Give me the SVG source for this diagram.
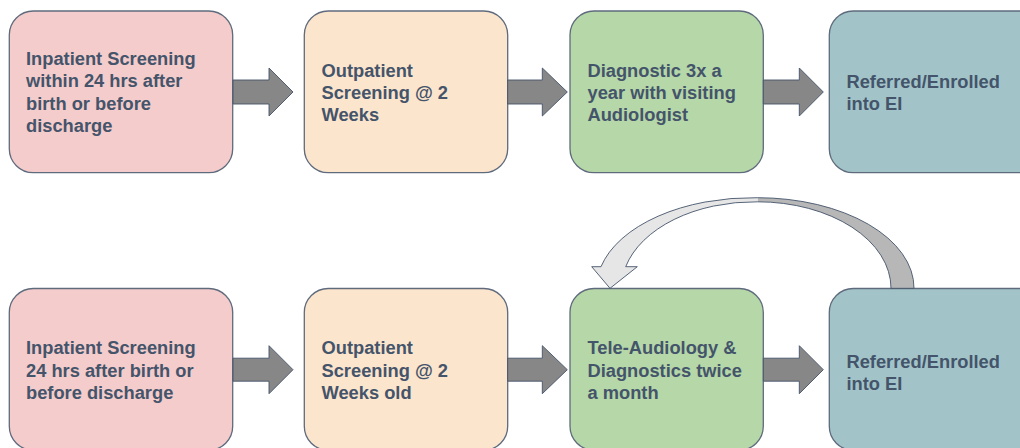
<svg xmlns="http://www.w3.org/2000/svg" width="1020" height="448" viewBox="0 0 1020 448">
<style>
.box{stroke:#5f6b7d;stroke-width:1.3}
.pink{fill:#f4cccc}.peach{fill:#fce5cd}.green{fill:#b6d7a8}.teal{fill:#a2c4c9}
.lbl{font-family:"Liberation Sans",Arial,sans-serif;font-weight:bold;font-size:18.3px;fill:#44546a}
.arr{fill:#878787;stroke:#44546a;stroke-width:0.9;stroke-linejoin:miter}
.cback{fill:#b7b7b7;stroke:none}
.cfront{fill:#e7e6e6;stroke:none}
.cline{fill:none;stroke:#44546a;stroke-width:0.9}
</style>
<rect width="1020" height="448" fill="#ffffff"/>
<g id="top1"><rect class="box pink" x="9.3" y="11" width="223.4" height="161.7" rx="24"/>
<text class="lbl"><tspan x="26" y="65">Inpatient Screening</tspan><tspan x="26" y="87.3">within 24 hrs after</tspan><tspan x="26" y="109.6">birth or before</tspan><tspan x="26" y="131.9">discharge</tspan></text></g>
<g id="top2"><rect class="box peach" x="304.3" y="11" width="203.4" height="161.7" rx="24"/>
<text class="lbl"><tspan x="321.5" y="76.5">Outpatient</tspan><tspan x="321.5" y="98.8">Screening @ 2</tspan><tspan x="321.5" y="121.1">Weeks</tspan></text></g>
<g id="top3"><rect class="box green" x="570" y="11" width="193.3" height="161.7" rx="24"/>
<text class="lbl"><tspan x="587.5" y="76.5">Diagnostic 3x a</tspan><tspan x="587.5" y="98.8">year with visiting</tspan><tspan x="587.5" y="121.1">Audiologist</tspan></text></g>
<g id="top4"><rect class="box teal" x="829.3" y="11" width="224" height="161.7" rx="24"/>
<text class="lbl"><tspan x="846.5" y="87.7">Referred/Enrolled</tspan><tspan x="846.5" y="110">into EI</tspan></text></g>
<g id="bot1"><rect class="box pink" x="9.3" y="288.5" width="223.4" height="161.7" rx="24"/>
<text class="lbl"><tspan x="26" y="354">Inpatient Screening</tspan><tspan x="26" y="376.5">24 hrs after birth or</tspan><tspan x="26" y="398.8">before discharge</tspan></text></g>
<g id="bot2"><rect class="box peach" x="304.3" y="288.5" width="203.4" height="161.7" rx="24"/>
<text class="lbl"><tspan x="321.5" y="354">Outpatient</tspan><tspan x="321.5" y="376.5">Screening @ 2</tspan><tspan x="321.5" y="398.8">Weeks old</tspan></text></g>
<g id="bot3"><rect class="box green" x="570" y="288.5" width="193.3" height="161.7" rx="24"/>
<text class="lbl"><tspan x="587.5" y="354">Tele-Audiology &amp;</tspan><tspan x="587.5" y="376.5">Diagnostics twice</tspan><tspan x="587.5" y="398.8">a month</tspan></text></g>
<g id="bot4"><rect class="box teal" x="829.3" y="288.5" width="224" height="161.7" rx="24"/>
<text class="lbl"><tspan x="846.5" y="367.5">Referred/Enrolled</tspan><tspan x="846.5" y="389.8">into EI</tspan></text></g>
<g id="connectors">
<path class="arr" d="M233,80 H269 V68 L293,92 L269,116 V104 H233 Z"/>
<path class="arr" d="M507.7,80 H542.3 V68 L567.3,92 L542.3,116 V104 H507.7 Z"/>
<path class="arr" d="M763.3,80 H799.3 V68 L823.3,92 L799.3,116 V104 H763.3 Z"/>
<path class="arr" d="M233,358.2 H269 V345.7 L293,369.7 L269,393.7 V381.2 H233 Z"/>
<path class="arr" d="M507.7,358.2 H542.3 V345.7 L567.3,369.7 L542.3,393.7 V381.2 H507.7 Z"/>
<path class="arr" d="M763.3,358.2 H799.3 V345.7 L823.3,369.7 L799.3,393.7 V381.2 H763.3 Z"/>
<path class="cback" d="M757.5,197.7 A156.5 90.3 0 0 1 914,288.3 L891,288.3 A133.5 86.5 0 0 0 757.5,201.8 Z"/>
<path class="cfront" d="M601,266.7 A156.5 90.3 0 0 1 757.5,197.7 L757.5,201.8 A133.5 86.5 0 0 0 625.7,266.7 L637.3,266.7 L610,288.3 L591.7,266.7 Z"/>
<path class="cline" d="M757.5,197.7 A156.5 90.3 0 0 1 914,288.3 L891,288.3 A133.5 86.5 0 0 0 757.5,201.8"/>
<path class="cline" d="M757.5,201.8 A133.5 86.5 0 0 0 625.7,266.7 L637.3,266.7 L610,288.3 L591.7,266.7 L601,266.7 A156.5 90.3 0 0 1 757.5,197.7"/>
</g>
</svg>
